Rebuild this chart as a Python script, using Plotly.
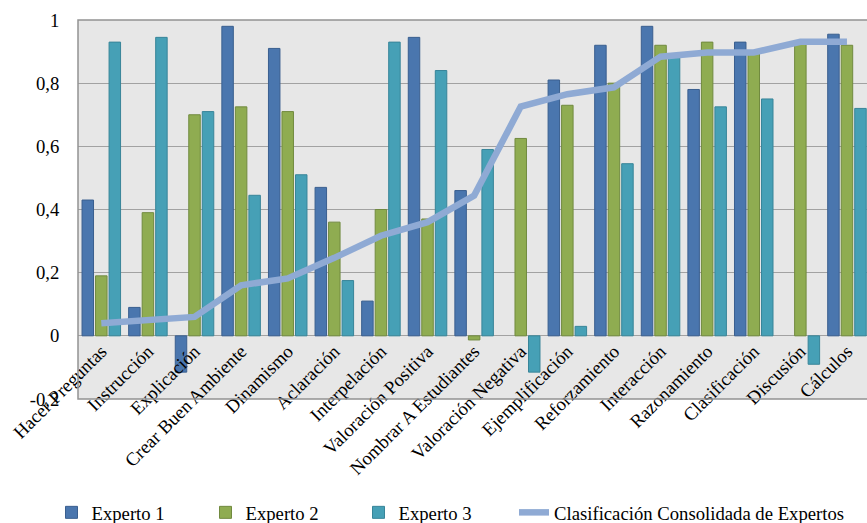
import plotly.graph_objects as go

categories = ["Hacer Preguntas", "Instrucción", "Explicación", "Crear Buen Ambiente",
              "Dinamismo", "Aclaración", "Interpelación", "Valoración Positiva",
              "Nombrar A Estudiantes", "Valoración Negativa", "Ejemplificación",
              "Reforzamiento", "Interacción", "Razonamiento", "Clasificación",
              "Discusión", "Cálculos"]
experto1 = [0.43, 0.09, -0.115, 0.98, 0.91, 0.47, 0.11, 0.945, 0.46, None, 0.81,
            0.92, 0.98, 0.78, 0.93, None, 0.955]
experto2 = [0.19, 0.39, 0.70, 0.725, 0.71, 0.36, 0.40, 0.37, -0.013, 0.625, 0.73,
            0.80, 0.92, 0.93, 0.90, 0.93, 0.92]
experto3 = [0.93, 0.945, 0.71, 0.445, 0.51, 0.175, 0.93, 0.84, 0.59, -0.115, 0.03,
            0.545, 0.89, 0.725, 0.75, -0.09, 0.72]
consolidada = [0.04, 0.052, 0.06, 0.16, 0.182, 0.247, 0.317, 0.36, 0.444, 0.726,
               0.765, 0.787, 0.884, 0.897, 0.897, 0.931, 0.931]
y_ticks = [-0.2, 0, 0.2, 0.4, 0.6, 0.8, 1]
y_ticktext = ["-0,2", "0", "0,2", "0,4", "0,6", "0,8", "1"]

FONT = "Liberation Serif"
FS = 18.7
GRID = "#A2A2A2"
PLOT_L, PLOT_W = 78, 789

fig = go.Figure()
fig.add_trace(go.Bar(name="Experto 1", x=categories, y=experto1, legend="legend",
                     marker=dict(color="#4A76AE", line=dict(color="#3A5F8F", width=1))))
fig.add_trace(go.Bar(name="Experto 2", x=categories, y=experto2, legend="legend2",
                     marker=dict(color="#8FAC51", line=dict(color="#718A3F", width=1))))
fig.add_trace(go.Bar(name="Experto 3", x=categories, y=experto3, legend="legend3",
                     marker=dict(color="#46A0B6", line=dict(color="#388599", width=1))))
fig.add_trace(go.Scatter(name="Clasificación Consolidada de Expertos", x=categories,
                         y=consolidada, mode="lines", legend="legend4",
                         line=dict(color="#8FAAD4", width=6.5)))


def leg(px):
    return dict(orientation="h", x=(px - PLOT_L) / PLOT_W, xanchor="left", y=-0.30,
                yanchor="middle", font=dict(family=FONT, size=FS, color="black"),
                bgcolor="rgba(0,0,0,0)")


fig.update_layout(
    width=867, height=523,
    margin=dict(l=PLOT_L, r=0, t=20, b=124, autoexpand=False),
    paper_bgcolor="white", plot_bgcolor="#E7E7E7",
    barmode="group", bargap=0.13, bargroupgap=0.15,
    font=dict(family=FONT, size=FS, color="black"),
    showlegend=True,
    legend=leg(51.5), legend2=leg(205.5), legend3=leg(358.5), legend4=leg(514),
    xaxis=dict(type="category", range=[-0.5, 16.43], anchor="free", position=1/6,
               tickangle=-45, showgrid=False, showline=False, ticks="",
               tickfont=dict(family=FONT, size=FS, color="black")),
    yaxis=dict(range=[-0.2, 1], tickvals=y_ticks, ticktext=y_ticktext,
               showgrid=True, gridcolor=GRID, gridwidth=1,
               zeroline=True, zerolinecolor=GRID, zerolinewidth=1,
               showline=False, ticks="outside", ticklen=0, ticklabelstandoff=14,
               tickfont=dict(family=FONT, size=FS, color="black")),
    shapes=[dict(type="rect", xref="paper", yref="paper", x0=0, x1=1.05, y0=0, y1=1,
                 line=dict(color="#939393", width=1.5), fillcolor="rgba(0,0,0,0)",
                 layer="above")],
)

fig.write_html("out.html")
